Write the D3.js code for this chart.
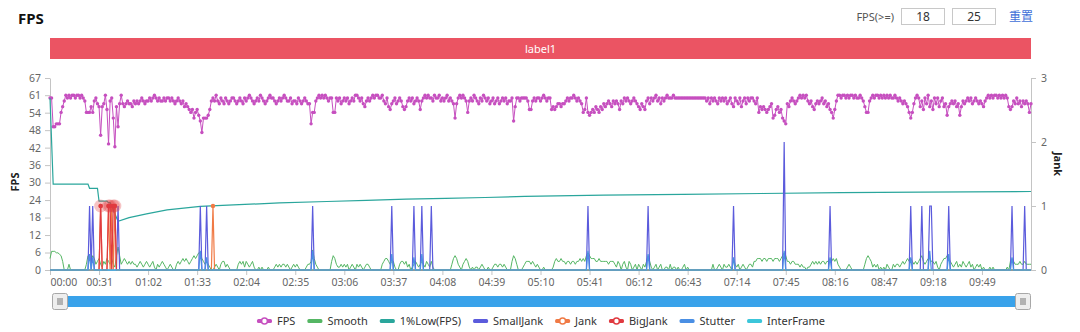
<!DOCTYPE html>
<html>
<head>
<meta charset="utf-8">
<script src="https://cdn.jsdelivr.net/npm/d3@7"></script>
<style>
body { margin: 0; background: #fff; font-family: "Noto Sans", "Noto Sans CJK SC", sans-serif; }
svg { display: block; }
</style>
</head>
<body>
<svg id="chart" width="1080" height="332"></svg>
<script>
// one sample per second, t = 0 .. 620
var fps = [
  60,60,50,50,51,51,51,55,57,59,61,60,61,60,61,61,60,61,61,60,61,60,59,55,55,55,57,55,59,60,58,
  57,47,57,58,61,56,44,59,60,53,43,57,50,58,61,58,57,58,59,58,58,57,59,58,59,58,59,60,59,58,59,
  59,60,59,60,61,60,59,60,59,59,60,59,60,60,59,60,59,58,59,60,59,58,59,57,58,57,56,55,56,53,55,
  56,54,52,48,53,53,53,54,56,59,60,59,61,59,58,60,59,58,60,59,58,59,60,60,59,58,59,60,59,58,60,
  59,60,61,60,59,58,59,60,59,61,60,59,58,59,60,61,60,60,59,58,59,60,59,60,61,60,59,59,60,58,59,
  59,58,60,59,58,59,60,59,58,58,51,55,55,59,60,61,60,61,60,61,60,59,60,60,55,55,60,59,60,58,59,
  60,59,60,58,59,60,59,61,61,60,59,60,58,57,59,60,59,60,61,60,61,61,60,60,61,59,58,60,57,56,58,
  59,60,58,59,60,59,57,56,57,59,60,59,60,58,59,60,59,56,59,60,61,60,61,60,60,59,61,60,60,61,59,
  60,59,60,61,59,60,59,58,53,58,60,61,60,61,60,59,55,59,60,59,61,60,59,58,60,59,61,60,59,60,58,
  59,60,58,59,60,58,59,60,59,60,58,59,59,60,52,57,60,60,59,60,60,60,60,59,56,56,59,60,59,60,60,
  59,60,61,60,59,60,60,56,57,56,57,58,58,57,58,58,59,60,59,60,60,61,60,59,60,59,58,55,56,60,55,
  54,55,56,55,57,56,55,57,56,58,57,58,59,58,57,59,58,59,58,56,59,58,60,59,60,59,58,59,60,59,58,
  57,56,58,57,56,59,60,58,60,59,60,61,59,60,58,60,59,60,61,60,60,60,61,60,60,60,60,60,60,60,60,
  60,60,60,60,60,60,60,60,60,60,60,60,59,60,58,60,59,60,59,58,60,59,60,59,60,58,59,60,58,57,60,
  59,58,60,57,59,60,58,60,59,60,60,59,58,60,55,57,56,57,56,55,56,57,58,53,54,56,57,55,56,53,52,
  51,58,57,59,60,59,58,59,60,61,60,61,60,61,59,58,59,57,56,58,59,58,59,60,58,59,57,58,56,55,53,
  56,59,61,61,60,61,61,60,61,60,61,61,60,61,60,60,61,60,59,57,55,55,59,60,61,60,61,61,60,61,60,
  61,60,61,60,61,60,60,61,60,59,60,59,58,59,58,57,55,53,55,58,60,61,60,57,59,56,60,58,61,57,59,
  56,60,58,60,57,59,60,57,58,54,57,58,59,58,59,57,58,54,57,59,58,59,60,59,60,58,59,60,59,58,59,
  58,57,59,60,61,60,61,60,61,61,60,61,60,61,60,61,60,57,56,57,59,58,60,58,59,57,59,58,59,58,55,
  58
];

var smooth = [
  4,6.5,6.5,6.5,6,6,5.5,5,3,0,0,0,2,0,0,0,0,0,0,0,0,0,0,2,5,5,3,5,4,2,3,
  4,2,1,3,2,4,3,2,4,2,1,5,8,5,2,3,4,3,2,3,2,3,2,2,1,2,3,2,1,2,3,
  2,1,2,3,1,0,2,1,2,3,2,1,0,1,2,1,0,0,2,3,2,3,4,3,4,3,2,3,4,5,4,
  5,6,6,4,3,2,3,2,1,0,0,1,2,1,0,2,3,3,1,2,1,0,0,0,0,0,2,3,2,3,1,
  3,2,1,2,3,1,0,0,1,0,1,0,0,0,1,0,0,0,1,2,1,2,1,2,2,1,2,1,0,1,2,
  1,2,1,0,0,0,0,1,2,2,3,7,4,2,1,0,0,0,0,0,0,0,0,3,5,4,2,1,1,2,1,
  2,1,2,0,1,2,1,0,2,1,2,1,0,1,2,2,1,0,0,0,0,0,0,0,2,3,4,4,3,2,3,
  3,1,0,0,2,3,3,2,3,1,2,0,1,2,3,2,1,2,3,2,1,3,2,1,3,1,0,0,0,0,0,
  0,0,0,0,0,0,2,4,5,4,2,1,0,2,3,4,3,1,0,1,0,1,1,0,1,2,1,0,0,1,0,
  0,1,2,2,1,2,2,1,2,1,0,0,0,3,5,4,2,0,0,0,1,2,3,3,3,2,3,2,1,2,1,
  0,0,1,0,0,0,0,0,1,3,4,3,3,4,3,3,2,3,3,2,3,3,2,3,3,4,3,4,3,5,6,
  5,4,4,4,3,3,4,3,3,3,3,3,2,3,3,3,2,1,3,2,0,2,3,1,0,3,2,0,1,2,0,
  2,1,0,2,1,3,5,3,1,0,1,2,0,1,2,0,0,1,1,0,2,0,1,1,0,1,0,0,1,2,0,
  1,0,0,0,0,0,0,0,0,0,0,0,0,0,0,0,2,0,0,1,2,1,0,2,1,1,2,1,0,4,2,
  1,2,0,1,2,1,0,1,2,2,1,3,3,4,4,4,3,4,4,3,4,4,4,3,4,4,4,3,4,5,6,
  5,3,3,2,3,3,2,2,2,1,2,1,1,0,1,1,2,3,2,3,2,3,2,3,3,2,3,3,4,3,4,
  3,4,2,1,0,0,0,0,1,2,1,0,0,0,0,0,0,0,0,2,4,5,4,3,1,2,1,2,0,1,0,
  1,0,2,1,0,0,2,1,2,2,1,2,3,2,3,4,3,4,3,2,3,2,3,4,5,3,2,3,4,4,3,
  3,2,3,1,0,2,3,4,4,5,4,3,2,1,2,3,1,2,1,3,2,1,2,3,1,2,0,1,2,1,2,
  0,1,0,0,0,1,0,1,0,0,0,0,0,0,0,0,1,0,3,4,3,2,2,2,3,2,2,3,2,2,2,
  2
];

// 1%Low(FPS): [second, value]
var lowFps = [[0,60],[2,30],[24,30],[25,28.5],[30,28.5],[31,24],[36,24],[37,23.5],[38,23.5],
  [43,17],[50,18.3],[61,19.6],[74,21],[95,22.2],[116,22.7],[145,23.4],[175,23.9],[200,24.3],
  [225,24.7],[250,25],[275,25.3],[300,25.7],[350,26.1],[400,26.4],[450,26.7],[500,27],[550,27.2],[620,27.4]];

// jank counts, [second, count]; every other second is 0
var smallJank = [[25,1],[27,1],[43,1],[95,1],[99,1],[166,1],[216,1],[230,1],[235,1],[241,1],[340,1],
  [378,1],[432,1],[464,2],[493,1],[544,1],[551,1],[556,1],[557,1],[568,1],[608,1],[616,1]];
var jank = [[32,1],[37,1],[39,1],[41,1],[103,1]];
var bigJank = [[32,1],[37,1],[38,1],[40,1],[41,1]];
var stutter = [[25,0.25],[27,0.2],[95,0.3],[99,0.2],[166,0.3],[216,0.25],[230,0.2],[235,0.25],[340,0.3],
  [378,0.25],[432,0.2],[464,0.3],[493,0.2],[544,0.2],[556,0.3],[568,0.25],[608,0.2]];
var interFrame = [];

var xTicks = [0,31,62,93,124,155,186,217,248,279,310,341,372,403,434,465,496,527,558,589];
var fpsTicks = [0,6.1,12.2,18.3,24.4,30.5,36.6,42.7,48.8,54.9,61,67];
var jankTicks = [0,1,2,3];

var seriesNames = ["FPS","Smooth","1%Low(FPS)","SmallJank","Jank","BigJank","Stutter","InterFrame"];
var seriesColors = ["#c64fbf","#55b664","#2aa69c","#5b5bdc","#f07a45","#e03a40","#4a8fe4","#3cc6da"];
var withSymbol = [true,false,false,false,true,true,false,false];
var fpsLimits = ["18","25"];

var plotLeft = 50, plotRight = 1031, plotTop = 78, plotBottom = 270;
var n = fps.length;

var svg = d3.select("#chart");

var x = d3.scaleLinear().domain([0, n - 1]).range([plotLeft, plotRight]);
var yFps = d3.scaleLinear().domain([0, 67]).range([plotBottom, plotTop]);
var yJank = d3.scaleLinear().domain([0, 3]).range([plotBottom, plotTop]);

function expand(spikes) {
    var arr = new Array(n).fill(0);
    spikes.forEach(function (d) { arr[d[0]] = d[1]; });
    return arr.map(function (v, i) { return [i, v]; });
}
function pad(v) { return v < 10 ? "0" + v : "" + v; }
function timeLabel(t) { return pad(Math.floor(t / 60)) + ":" + pad(t % 60); }

// header
svg.append("text").attr("x", 18).attr("y", 24).text("FPS")
    .attr("font-size", 15).attr("font-weight", "bold").attr("fill", "#111");

svg.append("text").attr("x", 894).attr("y", 17).attr("dy", "0.35em").attr("text-anchor", "end")
    .attr("font-size", 11).attr("fill", "#555").text("FPS(>=)");
var boxes = svg.selectAll(".box").data(fpsLimits).join("g").attr("class", "box")
    .attr("transform", function (d, i) { return "translate(" + (901 + i * 51) + ",8)"; });
boxes.append("rect").attr("x", 0.5).attr("y", 0.5).attr("width", 43).attr("height", 16)
    .attr("fill", "#fff").attr("stroke", "#c8c8c8");
boxes.append("text").attr("x", 22).attr("y", 9).attr("dy", "0.35em").attr("text-anchor", "middle")
    .attr("font-size", 12).attr("fill", "#333").text(function (d) { return d; });
svg.append("text").attr("x", 1009).attr("y", 17).attr("dy", "0.35em")
    .attr("font-size", 12).attr("fill", "#3f6fd8").text("重置");

// label band
svg.append("rect").attr("x", plotLeft).attr("y", 38).attr("width", plotRight - plotLeft).attr("height", 21)
    .attr("fill", "#eb5463");
svg.append("text").attr("x", (plotLeft + plotRight) / 2).attr("y", 49).attr("dy", "0.35em")
    .attr("text-anchor", "middle").attr("font-size", 11).attr("fill", "#fff").text("label1");

// axes
function styleAxis(g) {
    g.select(".domain").attr("stroke", "#c4c4c4");
    g.selectAll(".tick line").attr("stroke", "#c4c4c4");
    g.selectAll(".tick text").attr("fill", "#666").attr("font-size", 10.5)
        .attr("font-family", "\"Noto Sans\", sans-serif");
}

var xAxis = d3.axisBottom(x).tickValues(xTicks).tickFormat(timeLabel).tickSize(5).tickSizeOuter(0).tickPadding(4);
svg.append("g").attr("transform", "translate(0," + plotBottom + ")").call(xAxis).call(styleAxis)
    .selectAll(".tick text").filter(function (d) { return d === 0; }).attr("text-anchor", "start");

var yAxis = d3.axisLeft(yFps).tickValues(fpsTicks).tickFormat(function (d) { return Math.floor(d); })
    .tickSize(5).tickSizeOuter(0).tickPadding(4);
svg.append("g").attr("transform", "translate(" + plotLeft + ",0)").call(yAxis).call(styleAxis);

var jAxis = d3.axisRight(yJank).tickValues(jankTicks).tickFormat(d3.format("d"))
    .tickSize(5).tickSizeOuter(0).tickPadding(5);
svg.append("g").attr("transform", "translate(" + plotRight + ",0)").call(jAxis).call(styleAxis);

svg.append("text").attr("transform", "translate(19,182) rotate(-90)").attr("text-anchor", "middle")
    .attr("font-size", 11).attr("font-weight", "bold").attr("fill", "#222").text("FPS");
svg.append("text").attr("transform", "translate(1054,164) rotate(90)").attr("text-anchor", "middle")
    .attr("font-size", 11).attr("font-weight", "bold").attr("fill", "#222").text("Jank");

// series
var lineFps = d3.line().x(function (d) { return x(d[0]); }).y(function (d) { return yFps(d[1]); });
var lineJank = d3.line().x(function (d) { return x(d[0]); }).y(function (d) { return yJank(d[1]); });

var fpsData = fps.map(function (v, i) { return [i, v]; });
var smoothData = smooth.map(function (v, i) { return [i, v]; });

var plot = svg.append("g");

plot.append("path").datum(fpsData).attr("d", lineFps).attr("fill", "none")
    .attr("stroke", seriesColors[0]).attr("stroke-width", 1);
plot.append("g").selectAll("circle").data(fpsData).join("circle")
    .attr("cx", function (d) { return x(d[0]); }).attr("cy", function (d) { return yFps(d[1]); })
    .attr("r", 1.7).attr("fill", seriesColors[0]);

plot.append("path").datum(smoothData).attr("d", lineFps).attr("fill", "none")
    .attr("stroke", seriesColors[1]).attr("stroke-width", 1);

plot.append("path").datum(lowFps).attr("d", lineFps).attr("fill", "none")
    .attr("stroke", seriesColors[2]).attr("stroke-width", 1.2);

var jankSeries = [
    { data: expand(smallJank), color: seriesColors[3], spikes: smallJank, mark: false },
    { data: expand(jank), color: seriesColors[4], spikes: jank, mark: true },
    { data: expand(bigJank), color: seriesColors[5], spikes: bigJank, mark: true, halo: true },
    { data: expand(stutter), color: seriesColors[6], spikes: stutter, mark: false },
    { data: expand(interFrame), color: seriesColors[7], spikes: interFrame, mark: false }
];

jankSeries.forEach(function (s) {
    if (s.halo) {
        plot.append("g").selectAll("circle").data(s.spikes).join("circle")
            .attr("cx", function (d) { return x(d[0]); }).attr("cy", function (d) { return yJank(d[1]); })
            .attr("r", 6.5).attr("fill", s.color).attr("fill-opacity", 0.3);
    }
    plot.append("path").datum(s.data).attr("d", lineJank).attr("fill", "none")
        .attr("stroke", s.color).attr("stroke-width", 1.2);
    if (s.mark) {
        plot.append("g").selectAll("circle").data(s.spikes).join("circle")
            .attr("cx", function (d) { return x(d[0]); }).attr("cy", function (d) { return yJank(d[1]); })
            .attr("r", 2.2).attr("fill", s.color);
    }
});

// zoom slider
svg.append("rect").attr("x", 52).attr("y", 296).attr("width", 978).attr("height", 11).attr("fill", "#39a2ea");
[52, 1015].forEach(function (hx) {
    var h = svg.append("g").attr("transform", "translate(" + hx + ",293)");
    h.append("rect").attr("x", 0.5).attr("y", 0.5).attr("width", 15).attr("height", 16).attr("rx", 2)
        .attr("fill", "#eeeeee").attr("stroke", "#a8a8a8");
    [6, 8, 10].forEach(function (lx) {
        h.append("line").attr("x1", lx).attr("x2", lx).attr("y1", 5).attr("y2", 12)
            .attr("stroke", "#777").attr("stroke-width", 1);
    });
});

// legend
var legendY = 321;
var lg = svg.append("g");
var pos = 0;
var textOffset = 20, itemGap = 12;
seriesNames.forEach(function (name, i) {
    var g = lg.append("g").attr("transform", "translate(" + pos + ",0)");
    g.append("rect").attr("x", 0).attr("y", legendY - 2).attr("width", 15).attr("height", 4)
        .attr("rx", 1.5).attr("fill", seriesColors[i]);
    if (withSymbol[i]) {
        g.append("circle").attr("cx", 7.5).attr("cy", legendY).attr("r", 3)
            .attr("fill", "#fff").attr("stroke", seriesColors[i]).attr("stroke-width", 1.6);
    }
    var t = g.append("text").attr("x", textOffset).attr("y", legendY).attr("dy", "0.35em")
        .attr("font-size", 11).attr("fill", "#333").text(name);
    pos += textOffset + t.node().getComputedTextLength() + itemGap;
});
pos -= itemGap;
lg.attr("transform", "translate(" + (541 - pos / 2) + ",0)");
</script>
</body>
</html>
